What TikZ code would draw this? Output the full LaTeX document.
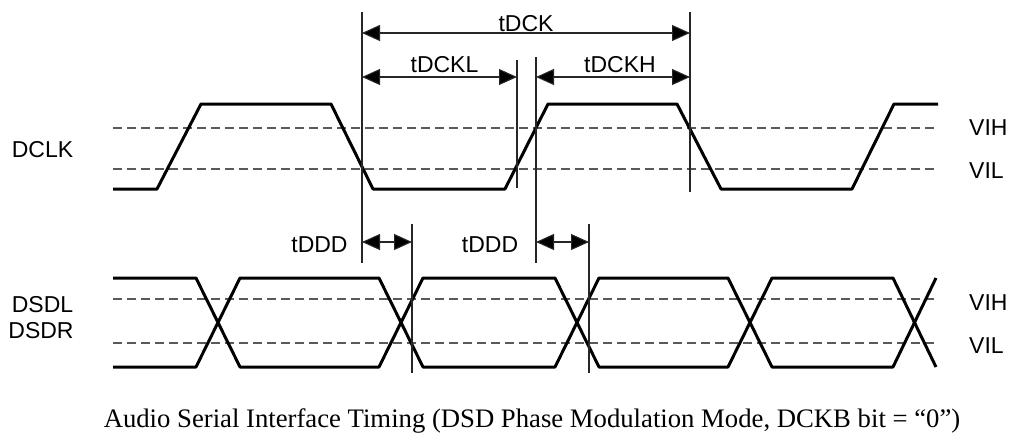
\documentclass[tikz,border=0pt]{standalone}
\usepackage{fontspec}
\setmainfont{Liberation Sans}
\newfontfamily\capfont{Liberation Serif}
\usetikzlibrary{arrows.meta}
\begin{document}
\begin{tikzpicture}[x=1pt,y=-1pt,
  sig/.style={line width=3pt, line join=round, black},
  thr/.style={dash pattern=on 9pt off 5pt, line width=1.8pt, black!65},
  vline/.style={line width=1.1pt, black!85},
  dimarrow/.style={line width=1.1pt, black!85,
    {Triangle[length=18pt,width=16pt,fill=black]}-{Triangle[length=18pt,width=16pt,fill=black]}},
  lbl/.style={font=\fontsize{23}{27}\selectfont, inner sep=0pt, anchor=base},
  lblw/.style={lbl, anchor=base west},
]
\useasboundingbox (0,0) rectangle (1012,437);

% threshold lines
\coordinate (h1l) at (113,128); \coordinate (h1r) at (937,128);
\coordinate (l1l) at (113,169); \coordinate (l1r) at (937,169);
\coordinate (h2l) at (113,299); \coordinate (h2r) at (937,299);
\coordinate (l2l) at (113,343); \coordinate (l2r) at (937,343);
\draw[thr] (h1l) -- (h1r);
\draw[thr] (l1l) -- (l1r);
\draw[thr] (h2l) -- (h2r);
\draw[thr] (l2l) -- (l2r);

% DCLK
\draw[sig] (113,189) -- (157,189) -- (201,104) -- (331,104) -- (373,189)
  -- (505,189) -- (548,104) -- (677,104) -- (721,189) -- (852,189)
  -- (894,104) -- (938,104);

% DSDL / DSDR
\draw[sig] (113,278) -- (196,278) -- (240,367) -- (379,367) -- (423,278)
  -- (555,278) -- (599,367) -- (728,367) -- (772,278) -- (893,278) -- (936,367);
\draw[sig] (113,367) -- (196,367) -- (240,278) -- (379,278) -- (423,367)
  -- (555,367) -- (599,278) -- (728,278) -- (772,367) -- (893,367) -- (936,278);

% vertical reference lines
\coordinate (v1t) at (362,12);  \coordinate (v1b) at (362,263);
\coordinate (v2t) at (517,60);  \coordinate (v2b) at (517,188);
\coordinate (v3t) at (536,57);  \coordinate (v3b) at (536,263);
\coordinate (v4t) at (690,12);  \coordinate (v4b) at (690,192);
\coordinate (v5t) at (412,224); \coordinate (v5b) at (412,373);
\coordinate (v6t) at (589,224); \coordinate (v6b) at (589,373);
\draw[vline] (v1t) -- (v1b);
\draw[vline] (v2t) -- (v2b);
\draw[vline] (v3t) -- (v3b);
\draw[vline] (v4t) -- (v4b);
\draw[vline] (v5t) -- (v5b);
\draw[vline] (v6t) -- (v6b);

% dimension arrows
\coordinate (dck1) at (362,33);  \coordinate (dck2) at (690,33);
\coordinate (dckl1) at (362,77); \coordinate (dckl2) at (517,77);
\coordinate (dckh1) at (536,77); \coordinate (dckh2) at (690,77);
\coordinate (ddd1a) at (362,242); \coordinate (ddd1b) at (412,242);
\coordinate (ddd2a) at (536,242); \coordinate (ddd2b) at (589,242);
\draw[dimarrow] (dck1) -- (dck2);
\draw[dimarrow] (dckl1) -- (dckl2);
\draw[dimarrow] (dckh1) -- (dckh2);
\draw[dimarrow] (ddd1a) -- (ddd1b);
\draw[dimarrow] (ddd2a) -- (ddd2b);

% labels
\node[lbl] (tdck) at (526,31) {tDCK};
\node[lbl] (tdckl) at (444.5,72) {tDCKL};
\node[lbl] (tdckh) at (620,72) {tDCKH};
\node[lbl] (tddd1) at (319.5,252) {tDDD};
\node[lbl] (tddd2) at (490,252) {tDDD};
\node[lbl] (dclk) at (42.5,157) {DCLK};
\node[lbl] (dsdl) at (42.5,312) {DSDL};
\node[lbl] (dsdr) at (41,338) {DSDR};
\node[lblw] (vih1) at (969,135) {VIH};
\node[lblw] (vil1) at (969,178) {VIL};
\node[lblw] (vih2) at (969,310) {VIH};
\node[lblw] (vil2) at (969,353) {VIL};
\node[inner sep=0pt, anchor=base, font=\capfont\fontsize{26.7}{30}\selectfont] (cap) at (532,427)
  {Audio Serial Interface Timing (DSD Phase Modulation Mode, DCKB bit = “0”)};
\end{tikzpicture}
\end{document}
